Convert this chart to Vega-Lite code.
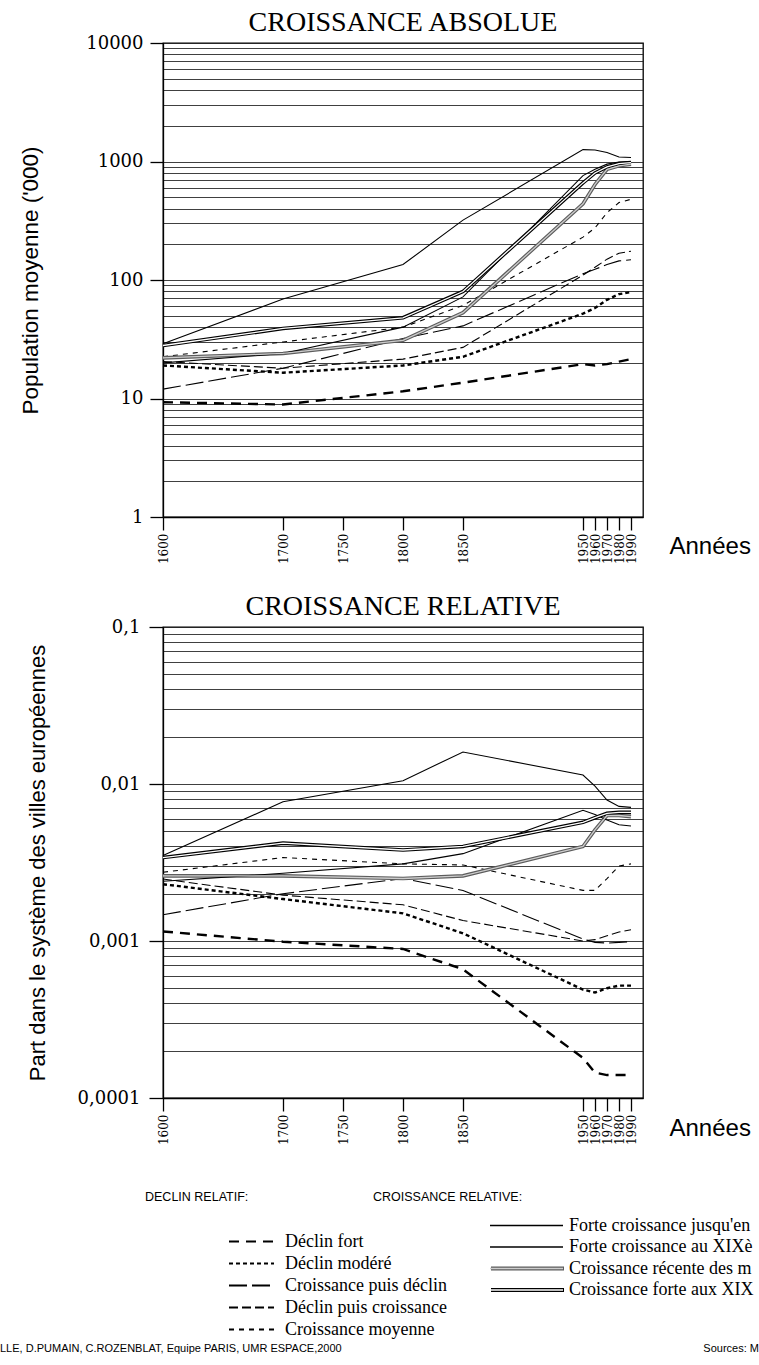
{
  "$schema": "https://vega.github.io/schema/vega-lite/v6.json",
  "background": "white",
  "padding": {"left": 0, "top": 8, "right": 0, "bottom": 0},
  "datasets": {
    "villes": [
      {"annee": 1600, "serie": "Forte croissance jusqu'en", "groupe": "croissance", "population": 29, "part": 0.0035},
      {"annee": 1700, "serie": "Forte croissance jusqu'en", "groupe": "croissance", "population": 69, "part": 0.0077},
      {"annee": 1800, "serie": "Forte croissance jusqu'en", "groupe": "croissance", "population": 135, "part": 0.0105},
      {"annee": 1850, "serie": "Forte croissance jusqu'en", "groupe": "croissance", "population": 320, "part": 0.016},
      {"annee": 1950, "serie": "Forte croissance jusqu'en", "groupe": "croissance", "population": 1260, "part": 0.0114},
      {"annee": 1960, "serie": "Forte croissance jusqu'en", "groupe": "croissance", "population": 1250, "part": 0.0097},
      {"annee": 1970, "serie": "Forte croissance jusqu'en", "groupe": "croissance", "population": 1190, "part": 0.0079},
      {"annee": 1980, "serie": "Forte croissance jusqu'en", "groupe": "croissance", "population": 1090, "part": 0.0072},
      {"annee": 1990, "serie": "Forte croissance jusqu'en", "groupe": "croissance", "population": 1080, "part": 0.0071},

      {"annee": 1600, "serie": "Forte croissance au XIXè", "groupe": "croissance", "population": 20, "part": 0.0024},
      {"annee": 1700, "serie": "Forte croissance au XIXè", "groupe": "croissance", "population": 24, "part": 0.0027},
      {"annee": 1800, "serie": "Forte croissance au XIXè", "groupe": "croissance", "population": 40, "part": 0.0031},
      {"annee": 1850, "serie": "Forte croissance au XIXè", "groupe": "croissance", "population": 72, "part": 0.0036},
      {"annee": 1950, "serie": "Forte croissance au XIXè", "groupe": "croissance", "population": 760, "part": 0.0068},
      {"annee": 1960, "serie": "Forte croissance au XIXè", "groupe": "croissance", "population": 860, "part": 0.0064},
      {"annee": 1970, "serie": "Forte croissance au XIXè", "groupe": "croissance", "population": 950, "part": 0.0059},
      {"annee": 1980, "serie": "Forte croissance au XIXè", "groupe": "croissance", "population": 990, "part": 0.0055},
      {"annee": 1990, "serie": "Forte croissance au XIXè", "groupe": "croissance", "population": 1000, "part": 0.0054},

      {"annee": 1600, "serie": "Croissance récente des m", "groupe": "croissance", "population": 22, "part": 0.0026},
      {"annee": 1700, "serie": "Croissance récente des m", "groupe": "croissance", "population": 24, "part": 0.0026},
      {"annee": 1800, "serie": "Croissance récente des m", "groupe": "croissance", "population": 31, "part": 0.0025},
      {"annee": 1850, "serie": "Croissance récente des m", "groupe": "croissance", "population": 53, "part": 0.0026},
      {"annee": 1950, "serie": "Croissance récente des m", "groupe": "croissance", "population": 440, "part": 0.004},
      {"annee": 1960, "serie": "Croissance récente des m", "groupe": "croissance", "population": 640, "part": 0.0051},
      {"annee": 1970, "serie": "Croissance récente des m", "groupe": "croissance", "population": 860, "part": 0.0063},
      {"annee": 1980, "serie": "Croissance récente des m", "groupe": "croissance", "population": 920, "part": 0.0063},
      {"annee": 1990, "serie": "Croissance récente des m", "groupe": "croissance", "population": 950, "part": 0.0062},

      {"annee": 1600, "serie": "Croissance forte aux XIX", "groupe": "croissance", "population": 28, "part": 0.0034},
      {"annee": 1700, "serie": "Croissance forte aux XIX", "groupe": "croissance", "population": 39, "part": 0.0042},
      {"annee": 1800, "serie": "Croissance forte aux XIX", "groupe": "croissance", "population": 48, "part": 0.0038},
      {"annee": 1850, "serie": "Croissance forte aux XIX", "groupe": "croissance", "population": 80, "part": 0.004},
      {"annee": 1950, "serie": "Croissance forte aux XIX", "groupe": "croissance", "population": 660, "part": 0.0057},
      {"annee": 1960, "serie": "Croissance forte aux XIX", "groupe": "croissance", "population": 800, "part": 0.0061},
      {"annee": 1970, "serie": "Croissance forte aux XIX", "groupe": "croissance", "population": 900, "part": 0.0065},
      {"annee": 1980, "serie": "Croissance forte aux XIX", "groupe": "croissance", "population": 960, "part": 0.0066},
      {"annee": 1990, "serie": "Croissance forte aux XIX", "groupe": "croissance", "population": 980, "part": 0.0066},

      {"annee": 1600, "serie": "Croissance moyenne", "groupe": "déclin", "population": 22.5, "part": 0.00274},
      {"annee": 1700, "serie": "Croissance moyenne", "groupe": "déclin", "population": 30, "part": 0.0034},
      {"annee": 1800, "serie": "Croissance moyenne", "groupe": "déclin", "population": 40, "part": 0.0031},
      {"annee": 1850, "serie": "Croissance moyenne", "groupe": "déclin", "population": 61, "part": 0.00305},
      {"annee": 1950, "serie": "Croissance moyenne", "groupe": "déclin", "population": 230, "part": 0.0021},
      {"annee": 1960, "serie": "Croissance moyenne", "groupe": "déclin", "population": 275, "part": 0.0021},
      {"annee": 1970, "serie": "Croissance moyenne", "groupe": "déclin", "population": 370, "part": 0.0025},
      {"annee": 1980, "serie": "Croissance moyenne", "groupe": "déclin", "population": 450, "part": 0.003},
      {"annee": 1990, "serie": "Croissance moyenne", "groupe": "déclin", "population": 480, "part": 0.0031},

      {"annee": 1600, "serie": "Croissance puis déclin", "groupe": "déclin", "population": 12, "part": 0.00147},
      {"annee": 1700, "serie": "Croissance puis déclin", "groupe": "déclin", "population": 18, "part": 0.002},
      {"annee": 1800, "serie": "Croissance puis déclin", "groupe": "déclin", "population": 32, "part": 0.0025},
      {"annee": 1850, "serie": "Croissance puis déclin", "groupe": "déclin", "population": 41, "part": 0.0021},
      {"annee": 1950, "serie": "Croissance puis déclin", "groupe": "déclin", "population": 113, "part": 0.00103},
      {"annee": 1960, "serie": "Croissance puis déclin", "groupe": "déclin", "population": 123, "part": 0.00098},
      {"annee": 1970, "serie": "Croissance puis déclin", "groupe": "déclin", "population": 135, "part": 0.00097},
      {"annee": 1980, "serie": "Croissance puis déclin", "groupe": "déclin", "population": 145, "part": 0.00098},
      {"annee": 1990, "serie": "Croissance puis déclin", "groupe": "déclin", "population": 148, "part": 0.00099},

      {"annee": 1600, "serie": "Déclin puis croissance", "groupe": "déclin", "population": 20.5, "part": 0.00248},
      {"annee": 1700, "serie": "Déclin puis croissance", "groupe": "déclin", "population": 18, "part": 0.00196},
      {"annee": 1800, "serie": "Déclin puis croissance", "groupe": "déclin", "population": 21.5, "part": 0.0017},
      {"annee": 1850, "serie": "Déclin puis croissance", "groupe": "déclin", "population": 27, "part": 0.00135},
      {"annee": 1950, "serie": "Déclin puis croissance", "groupe": "déclin", "population": 110, "part": 0.001},
      {"annee": 1960, "serie": "Déclin puis croissance", "groupe": "déclin", "population": 128, "part": 0.00102},
      {"annee": 1970, "serie": "Déclin puis croissance", "groupe": "déclin", "population": 150, "part": 0.00108},
      {"annee": 1980, "serie": "Déclin puis croissance", "groupe": "déclin", "population": 168, "part": 0.00114},
      {"annee": 1990, "serie": "Déclin puis croissance", "groupe": "déclin", "population": 175, "part": 0.00118},

      {"annee": 1600, "serie": "Déclin modéré", "groupe": "déclin", "population": 19, "part": 0.0023},
      {"annee": 1700, "serie": "Déclin modéré", "groupe": "déclin", "population": 16.5, "part": 0.00185},
      {"annee": 1800, "serie": "Déclin modéré", "groupe": "déclin", "population": 19, "part": 0.0015},
      {"annee": 1850, "serie": "Déclin modéré", "groupe": "déclin", "population": 22.5, "part": 0.00112},
      {"annee": 1950, "serie": "Déclin modéré", "groupe": "déclin", "population": 52, "part": 0.00049},
      {"annee": 1960, "serie": "Déclin modéré", "groupe": "déclin", "population": 58, "part": 0.00047},
      {"annee": 1970, "serie": "Déclin modéré", "groupe": "déclin", "population": 68, "part": 0.0005},
      {"annee": 1980, "serie": "Déclin modéré", "groupe": "déclin", "population": 76, "part": 0.00052},
      {"annee": 1990, "serie": "Déclin modéré", "groupe": "déclin", "population": 79, "part": 0.00052},

      {"annee": 1600, "serie": "Déclin fort", "groupe": "déclin", "population": 9.3, "part": 0.00115},
      {"annee": 1700, "serie": "Déclin fort", "groupe": "déclin", "population": 8.9, "part": 0.00099},
      {"annee": 1800, "serie": "Déclin fort", "groupe": "déclin", "population": 11.5, "part": 0.00089},
      {"annee": 1850, "serie": "Déclin fort", "groupe": "déclin", "population": 13.6, "part": 0.00066},
      {"annee": 1950, "serie": "Déclin fort", "groupe": "déclin", "population": 19.5, "part": 0.00018},
      {"annee": 1960, "serie": "Déclin fort", "groupe": "déclin", "population": 19, "part": 0.000145},
      {"annee": 1970, "serie": "Déclin fort", "groupe": "déclin", "population": 19.5, "part": 0.00014},
      {"annee": 1980, "serie": "Déclin fort", "groupe": "déclin", "population": 20.5, "part": 0.00014},
      {"annee": 1990, "serie": "Déclin fort", "groupe": "déclin", "population": 21.5, "part": 0.00014}
    ],
    "notes": [
      {"note": "LLE, D.PUMAIN, C.ROZENBLAT, Equipe PARIS, UMR ESPACE,2000", "cote": "gauche"},
      {"note": "Sources: M", "cote": "droite"}
    ]
  },
  "config": {
    "view": {"stroke": "black", "strokeWidth": 1.3},
    "title": {"font": "Liberation Serif", "fontSize": 28, "fontWeight": "normal", "color": "black", "anchor": "middle"},
    "axis": {"domainColor": "black", "domainWidth": 1.3, "tickColor": "black", "tickWidth": 1.3, "labelColor": "black", "titleColor": "black", "titleFontWeight": "normal", "labelFlush": false, "labelOverlap": false, "gridColor": "#1e1e1e", "gridWidth": 1, "gridOpacity": 0.85},
    "legend": {"orient": "none", "direction": "vertical", "padding": 0, "titleFont": "Liberation Sans", "titleFontSize": 12.5, "titleFontWeight": "normal", "titleColor": "black", "labelFont": "Liberation Serif", "labelFontSize": 18, "labelColor": "black", "labelLimit": 400, "symbolType": "stroke", "clipHeight": 16}
  },
  "columns": 1,
  "spacing": 27,
  "concat": [
    {
      "width": 480,
      "height": 474,
      "title": {"text": "CROISSANCE ABSOLUE", "offset": -3},
      "data": {"name": "villes"},
      "encoding": {
        "x": {"field": "annee", "type": "quantitative", "scale": {"domain": [1600, 2000], "nice": false, "zero": false},
          "axis": {"values": [1600, 1700, 1750, 1800, 1850, 1950, 1960, 1970, 1980, 1990], "format": "d", "labelAngle": 270, "labelAlign": "right", "labelBaseline": "middle", "labelFont": "DejaVu Serif", "labelFontSize": 12, "tickSize": 13, "labelPadding": 3, "grid": false,
            "title": "Années", "titleFont": "Liberation Sans", "titleFontSize": 24, "titleX": 506, "titleY": 29, "titleAlign": "left", "titleBaseline": "middle", "titleAngle": 0}},
        "y": {"field": "population", "type": "quantitative", "scale": {"type": "log", "domain": [1, 10000]},
          "axis": {"values": [1, 2, 3, 4, 5, 6, 7, 8, 9, 10, 20, 30, 40, 50, 60, 70, 80, 90, 100, 200, 300, 400, 500, 600, 700, 800, 900, 1000, 2000, 3000, 4000, 5000, 6000, 7000, 8000, 9000, 10000],
            "grid": true, "tickSize": 13,
            "tickOpacity": {"condition": {"test": "indexof([1, 10, 100, 1000, 10000], datum.value) >= 0", "value": 1}, "value": 0},
            "labelExpr": "indexof([1, 10, 100, 1000, 10000], datum.value) >= 0 ? format(datum.value, 'd') : ''",
            "labelFont": "DejaVu Serif", "labelFontSize": 18, "labelPadding": 7,
            "title": "Population moyenne ('000)", "titleFont": "Liberation Sans", "titleFontSize": 22.5, "titleX": -133, "titleBaseline": "middle"}}
      },
      "layer": [
        {"transform": [{"filter": {"field": "serie", "oneOf": ["Déclin fort", "Déclin modéré"]}}],
          "mark": {"type": "line", "color": "black", "strokeWidth": 2.4},
          "encoding": {"strokeDash": {"field": "serie", "type": "nominal",
            "scale": {"domain": ["Déclin fort", "Déclin modéré", "Croissance puis déclin", "Déclin puis croissance", "Croissance moyenne"], "range": [[10, 7], [4, 3], [18, 5], [9, 4], [5, 5]]},
            "legend": {"title": "DECLIN RELATIF:", "legendX": -18, "legendY": 1148, "titlePadding": 30, "rowPadding": 4, "symbolSize": 2025, "symbolOffset": 83, "labelOffset": 10, "symbolStrokeWidth": 1.8}}}},
        {"transform": [{"filter": {"field": "serie", "oneOf": ["Croissance puis déclin", "Déclin puis croissance", "Croissance moyenne"]}}],
          "mark": {"type": "line", "color": "black", "strokeWidth": 1.1},
          "encoding": {"strokeDash": {"field": "serie", "type": "nominal"}}},
        {"transform": [{"filter": {"field": "serie", "oneOf": ["Croissance récente des m", "Croissance forte aux XIX"]}}],
          "mark": {"type": "line", "strokeWidth": 3.6},
          "encoding": {"stroke": {"field": "serie", "type": "nominal",
            "scale": {"domain": ["Forte croissance jusqu'en", "Forte croissance au XIXè", "Croissance récente des m", "Croissance forte aux XIX", "·"], "range": ["transparent", "transparent", "#5c5c5c", "black", "transparent"]},
            "legend": {"values": ["Forte croissance jusqu'en", "Forte croissance au XIXè", "Croissance récente des m", "Croissance forte aux XIX"], "title": "CROISSANCE RELATIVE:", "titleOpacity": 0, "labelOpacity": 0, "zindex": 0, "legendX": 210, "legendY": 1148, "titlePadding": 14, "rowPadding": 3.5, "symbolSize": 5329, "symbolOffset": 116, "labelOffset": 5, "symbolStrokeWidth": 3.8}}}},
        {"transform": [{"filter": {"field": "serie", "oneOf": ["Forte croissance jusqu'en", "Forte croissance au XIXè"]}}],
          "mark": {"type": "line", "strokeWidth": 1.1},
          "encoding": {"color": {"field": "serie", "type": "nominal",
            "scale": {"domain": ["Forte croissance jusqu'en", "Forte croissance au XIXè", "Croissance récente des m", "Croissance forte aux XIX"], "range": ["black", "black", "#cdcdcd", "white"]},
            "legend": {"title": "CROISSANCE RELATIVE:", "zindex": 1, "legendX": 210, "legendY": 1148, "titlePadding": 14, "rowPadding": 3.5, "symbolSize": 5329, "symbolOffset": 116, "labelOffset": 5, "symbolStrokeWidth": 1.3}}}},
        {"transform": [{"filter": {"field": "serie", "oneOf": ["Croissance récente des m", "Croissance forte aux XIX"]}}],
          "mark": {"type": "line", "strokeWidth": 1.3},
          "encoding": {"color": {"field": "serie", "type": "nominal"}}}
      ]
    },
    {
      "width": 480,
      "height": 471,
      "title": {"text": "CROISSANCE RELATIVE", "offset": -3},
      "data": {"name": "villes"},
      "encoding": {
        "x": {"field": "annee", "type": "quantitative", "scale": {"domain": [1600, 2000], "nice": false, "zero": false},
          "axis": {"values": [1600, 1700, 1750, 1800, 1850, 1950, 1960, 1970, 1980, 1990], "format": "d", "labelAngle": 270, "labelAlign": "right", "labelBaseline": "middle", "labelFont": "DejaVu Serif", "labelFontSize": 12, "tickSize": 13, "labelPadding": 3, "grid": false,
            "title": "Années", "titleFont": "Liberation Sans", "titleFontSize": 24, "titleX": 506, "titleY": 30, "titleAlign": "left", "titleBaseline": "middle", "titleAngle": 0}},
        "y": {"field": "part", "type": "quantitative", "scale": {"type": "log", "domain": [0.0001, 0.1]},
          "axis": {"values": [0.0001, 0.0002, 0.0003, 0.0004, 0.0005, 0.0006, 0.0007, 0.0008, 0.0009, 0.001, 0.002, 0.003, 0.004, 0.005, 0.006, 0.007, 0.008, 0.009, 0.01, 0.02, 0.03, 0.04, 0.05, 0.06, 0.07, 0.08, 0.09, 0.1],
            "grid": true, "tickSize": 14,
            "tickOpacity": {"condition": {"test": "indexof([0.0001, 0.001, 0.01, 0.1], datum.value) >= 0", "value": 1}, "value": 0},
            "labelExpr": "datum.value == 0.1 ? '0,1' : datum.value == 0.01 ? '0,01' : datum.value == 0.001 ? '0,001' : datum.value == 0.0001 ? '0,0001' : ''",
            "labelFont": "DejaVu Serif", "labelFontSize": 18, "labelPadding": 9,
            "title": "Part dans le système des villes européennes", "titleFont": "Liberation Sans", "titleFontSize": 22, "titleX": -126, "titleBaseline": "middle"}}
      },
      "layer": [
        {"transform": [{"filter": {"field": "serie", "oneOf": ["Déclin fort", "Déclin modéré"]}}],
          "mark": {"type": "line", "color": "black", "strokeWidth": 2.4},
          "encoding": {"strokeDash": {"field": "serie", "type": "nominal"}}},
        {"transform": [{"filter": {"field": "serie", "oneOf": ["Croissance puis déclin", "Déclin puis croissance", "Croissance moyenne"]}}],
          "mark": {"type": "line", "color": "black", "strokeWidth": 1.1},
          "encoding": {"strokeDash": {"field": "serie", "type": "nominal"}}},
        {"transform": [{"filter": {"field": "serie", "oneOf": ["Croissance récente des m", "Croissance forte aux XIX"]}}],
          "mark": {"type": "line", "strokeWidth": 3.6},
          "encoding": {"stroke": {"field": "serie", "type": "nominal"}}},
        {"transform": [{"filter": {"field": "serie", "oneOf": ["Forte croissance jusqu'en", "Forte croissance au XIXè"]}}],
          "mark": {"type": "line", "strokeWidth": 1.1},
          "encoding": {"color": {"field": "serie", "type": "nominal"}}},
        {"transform": [{"filter": {"field": "serie", "oneOf": ["Croissance récente des m", "Croissance forte aux XIX"]}}],
          "mark": {"type": "line", "strokeWidth": 1.3},
          "encoding": {"color": {"field": "serie", "type": "nominal"}}}
      ]
    },
    {
      "width": 596,
      "height": 176,
      "view": {"stroke": null},
      "data": {"name": "notes"},
      "mark": {"type": "text", "font": "Liberation Sans", "fontSize": 11, "color": "black", "baseline": "middle",
        "align": {"expr": "datum.cote == 'gauche' ? 'left' : 'right'"},
        "dx": {"expr": "datum.cote == 'gauche' ? -163 : 0"}},
      "encoding": {
        "x": {"field": "cote", "type": "nominal", "scale": {"type": "point", "padding": 0, "domain": ["gauche", "droite"]}, "axis": null},
        "y": {"datum": 0, "type": "quantitative", "scale": {"domain": [0, 1]}, "axis": null},
        "text": {"field": "note"}
      }
    }
  ]
}
